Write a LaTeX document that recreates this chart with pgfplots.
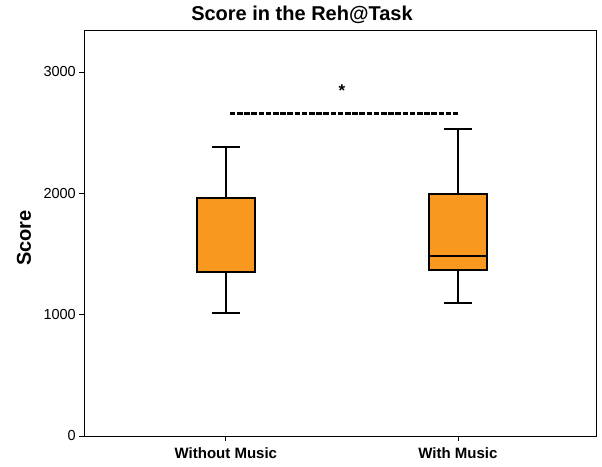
\documentclass[border=0pt]{standalone}
\usepackage{pgfplots}
\pgfplotsset{compat=1.18}
\usepackage{fontspec}
\setmainfont{Liberation Sans}
\definecolor{boxorange}{RGB}{248,152,31}
\begin{document}
\begin{tikzpicture}
\begin{axis}[
  scale only axis,
  width=511.7pt, height=405.3pt,
  xmin=0.39, xmax=2.595,
  ymin=0, ymax=3340,
  xtick={1,2},
  xticklabels={Without Music, With Music},
  ytick={0,1000,2000,3000},
  /pgf/number format/1000 sep={},
  /pgf/number format/assume math mode=true,
  tick align=outside,
  major tick length=5pt,
  xtick pos=bottom, ytick pos=left,
  tick style={black, line width=0.8pt},
  axis line style={black, line width=0.8pt},
  yticklabel style={font=\fontsize{14.5}{16}\selectfont},
  xticklabel style={font=\bfseries\fontsize{15}{17}\selectfont, inner sep=2pt, yshift=-4.5pt},
  title={Score in the Reh@Task},
  title style={at={(axis description cs:0.4254,1)}, anchor=base, yshift=4pt, inner sep=0pt, font=\bfseries\fontsize{20}{24}\selectfont},
  ylabel={Score},
  ylabel style={at={(axis description cs:-0.1178,0.4885)}, anchor=center, inner sep=0pt, font=\bfseries\fontsize{20}{24}\selectfont},
  clip=false,
]
% Without Music: lower whisker 1011, Q1 1353, median 1353, Q3 1958, upper whisker 2378
\addplot[black, line width=2pt] coordinates {(1,1011) (1,2378)};
\addplot[black, line width=2pt] coordinates {(0.94,2378) (1.06,2378)};
\addplot[black, line width=2pt] coordinates {(0.94,1011) (1.06,1011)};
\addplot[draw=black, fill=boxorange, line width=2pt] coordinates {(0.875,1353) (1.125,1353) (1.125,1958) (0.875,1958)} -- cycle;
\addplot[black, line width=2.5pt] coordinates {(0.875,1353) (1.125,1353)};
% With Music: lower whisker 1098, Q1 1367, median 1485, Q3 1991, upper whisker 2529
\addplot[black, line width=2pt] coordinates {(2,1098) (2,2529)};
\addplot[black, line width=2pt] coordinates {(1.94,2529) (2.06,2529)};
\addplot[black, line width=2pt] coordinates {(1.94,1098) (2.06,1098)};
\addplot[draw=black, fill=boxorange, line width=2pt] coordinates {(1.875,1367) (2.125,1367) (2.125,1991) (1.875,1991)} -- cycle;
\addplot[black, line width=2.5pt] coordinates {(1.875,1485) (2.125,1485)};
% significance
\addplot[black, line width=3pt, dash pattern=on 5.5pt off 1.7pt] coordinates {(1.017,2661) (2.0,2661)};
\node[anchor=base, inner sep=0pt] at (axis cs:1.5,2801) {\bfseries\fontsize{17}{17}\selectfont *};
\coordinate (sw) at (rel axis cs:0,0);
\coordinate (ne) at (rel axis cs:1,1);
\end{axis}
\path ([xshift=-84.3pt,yshift=-30pt]sw) rectangle ([xshift=6pt,yshift=30.7pt]ne);
\end{tikzpicture}
\end{document}
